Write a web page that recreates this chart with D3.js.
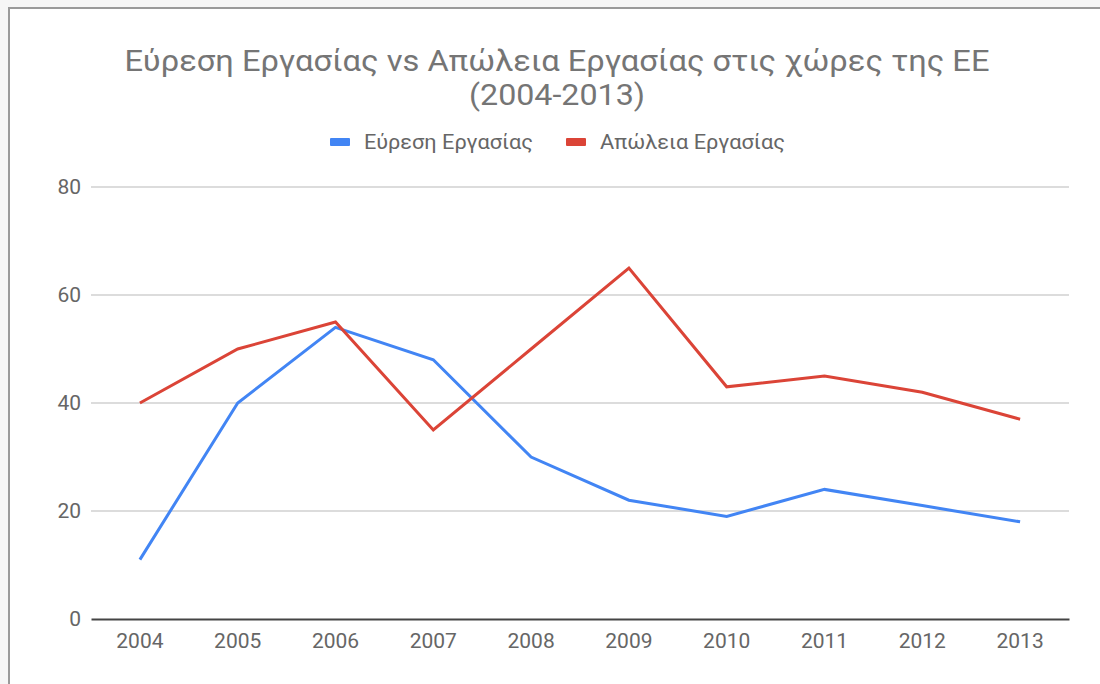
<!DOCTYPE html>
<html><head><meta charset="utf-8">
<script src="https://cdn.jsdelivr.net/npm/d3@7"></script>
<style>html,body{margin:0;padding:0;background:#fff}svg{display:block}</style>
</head><body>
<svg id="c" width="1100" height="684"></svg>
<script>
const years = ["2004","2005","2006","2007","2008","2009","2010","2011","2012","2013"];
const found = [11, 40, 54, 48, 30, 22, 19, 24, 21, 18];
const lost  = [40, 50, 55, 35, 50, 65, 43, 45, 42, 37];
const yTicks = [0, 20, 40, 60, 80];
const seriesNames = ["Εύρεση Εργασίας", "Απώλεια Εργασίας"];
const colors = ["#4285F4", "#DB4437"];
const titleLines = ["Εύρεση Εργασίας vs Απώλεια Εργασίας στις χώρες της ΕΕ", "(2004-2013)"];

const svg = d3.select("#c");
const font = "Roboto, Arial, sans-serif";

// spreadsheet-like surrounding
svg.append("rect").attr("width",1100).attr("height",684).attr("fill","#f6f6f6");
svg.append("rect").attr("x",9).attr("y",8).attr("width",1100).attr("height",700)
  .attr("fill","#fff").attr("stroke","#9a9a9a").attr("stroke-width",2);

const x = d3.scaleBand().domain(years).range([91,1069]);
const y = d3.scaleLinear().domain([0,80]).range([619,187]);

// gridlines
svg.append("g").selectAll("line").data(yTicks.filter(d=>d!==0)).join("line")
  .attr("x1",91).attr("x2",1069).attr("y1",d=>y(d)).attr("y2",d=>y(d))
  .attr("stroke","#d0d0d0").attr("stroke-width",1.5);

// y axis labels
const ya = svg.append("g").attr("transform","translate(91,0)")
  .call(d3.axisLeft(y).tickValues(yTicks).tickSize(0).tickPadding(10));
ya.select(".domain").remove();
ya.selectAll("text").attr("font-family",font).attr("font-size",21).attr("fill","#666");

// x axis
const xa = svg.append("g").attr("transform","translate(0,619)")
  .call(d3.axisBottom(x).tickSize(0).tickPadding(14));
xa.select(".domain").attr("stroke","#444").attr("stroke-width",2);
xa.selectAll("text").attr("font-family",font).attr("font-size",21).attr("fill","#666");

// lines
const line = d3.line().x((d,i)=>x(years[i])+x.bandwidth()/2).y(d=>y(d));
[found, lost].forEach((s,i)=>{
  svg.append("path").datum(s).attr("d",line).attr("fill","none")
    .attr("stroke",colors[i]).attr("stroke-width",3).attr("stroke-linejoin","miter");
});

// title
svg.append("text").attr("x",557).attr("y",71).attr("text-anchor","middle")
  .attr("font-family",font).attr("font-size",29).attr("fill","#757575")
  .attr("textLength",865).attr("lengthAdjust","spacingAndGlyphs").text(titleLines[0]);
svg.append("text").attr("x",557).attr("y",105).attr("text-anchor","middle")
  .attr("font-family",font).attr("font-size",29).attr("fill","#757575")
  .attr("textLength",176).attr("lengthAdjust","spacingAndGlyphs").text(titleLines[1]);

// legend
const legX = [330, 566], legTextLen = [169, 185];
seriesNames.forEach((n,i)=>{
  svg.append("rect").attr("x",legX[i]).attr("y",138).attr("width",20).attr("height",8)
    .attr("rx",1).attr("fill",colors[i]);
  svg.append("text").attr("x",legX[i]+34).attr("y",149).attr("font-family",font)
    .attr("font-size",20).attr("fill","#666")
    .attr("textLength",legTextLen[i]).attr("lengthAdjust","spacingAndGlyphs").text(n);
});
</script>
</body></html>
